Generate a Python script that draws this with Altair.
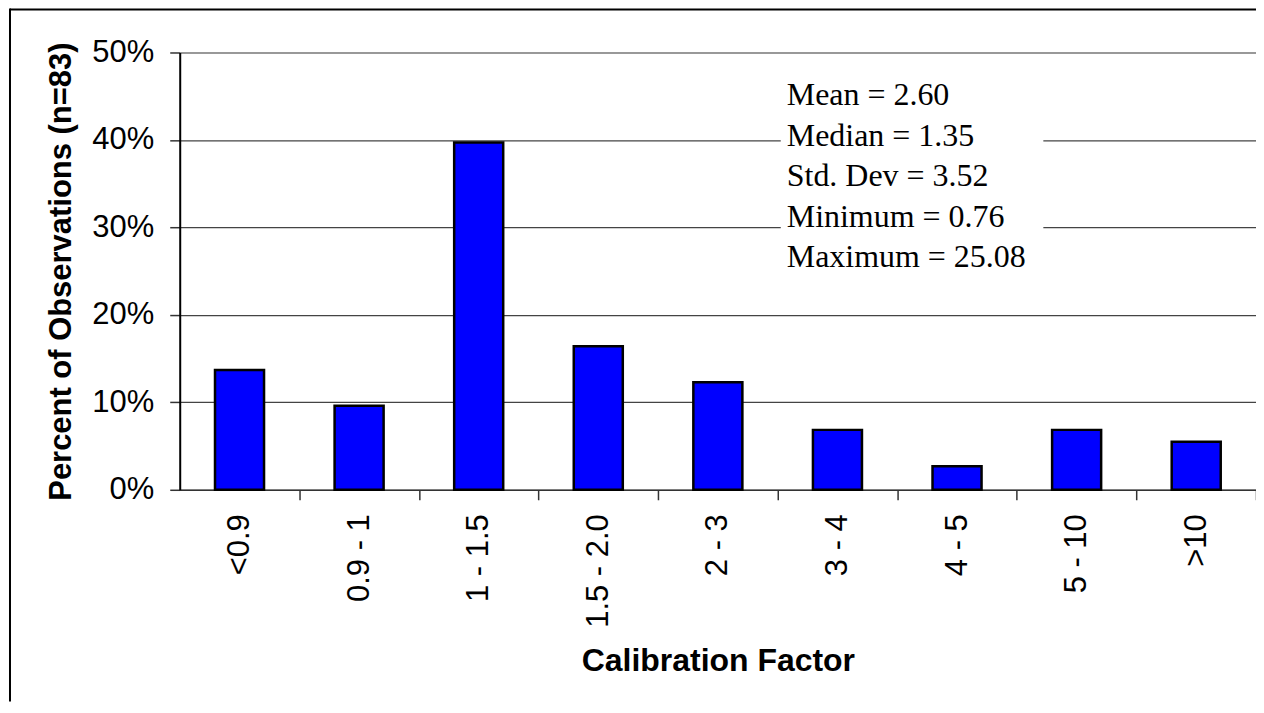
import altair as alt
import pandas as pd

categories = ["<0.9", "0.9 - 1", "1 - 1.5", "1.5 - 2.0", "2 - 3", "3 - 4", "4 - 5", "5 - 10", ">10"]
percents = [13.7, 9.6, 39.7, 16.4, 12.3, 6.85, 2.7, 6.85, 5.5]
stats_lines = ["Mean = 2.60", "Median = 1.35", "Std. Dev = 3.52", "Minimum = 0.76", "Maximum = 25.08"]

W, H = 1078, 438
BOTTOM = 212
step = W / len(categories)

df = pd.DataFrame({"cat": categories, "pct": percents})
one = pd.DataFrame({"a": [0]})

x = alt.X(
    "cat:N",
    sort=categories,
    scale=alt.Scale(paddingInner=0.59, paddingOuter=0.295),
    axis=alt.Axis(
        title="Calibration Factor",
        titleFont="Liberation Sans",
        titleFontSize=32,
        titleFontWeight="bold",
        titleColor="black",
        titlePadding=18,
        labelAngle=-90,
        labelFont="Liberation Sans",
        labelFontSize=31,
        labelColor="black",
        labelPadding=14,
        tickSize=10,
        tickColor="#333333",
        tickWidth=1.5,
        tickOffset=step / 2,
        labelOffset=-step / 2,
        domainColor="#333333",
        domainWidth=1.5,
        grid=False,
    ),
)

y = alt.Y(
    "pct:Q",
    scale=alt.Scale(domain=[0, 50]),
    axis=alt.Axis(
        title="Percent of Observations (n=83)",
        titleFont="Liberation Sans",
        titleFontSize=31,
        titleFontWeight="bold",
        titleColor="black",
        titlePadding=14,
        values=[0, 10, 20, 30, 40, 50],
        labelExpr="datum.value + '%'",
        labelFont="Liberation Sans",
        labelFontSize=31,
        labelColor="black",
        labelPadding=16,
        tickSize=10,
        tickColor="#333333",
        tickWidth=1.5,
        domainColor="black",
        domainWidth=2,
        grid=True,
        gridColor="#444444",
        gridWidth=1.2,
    ),
)

bars = alt.Chart(df).mark_bar(color="#0000FF", stroke="black", strokeWidth=2.5).encode(x=x, y=y)

box = alt.Chart(one).mark_rect(fill="white").encode(
    x=alt.value(602), x2=alt.value(865), y=alt.value(22), y2=alt.value(243)
)

stats = alt.Chart(one).mark_text(
    text=stats_lines,
    font="Liberation Serif",
    fontSize=32,
    lineHeight=40.5,
    align="left",
    baseline="top",
    color="black",
).encode(x=alt.value(608), y=alt.value(28))

border_left = alt.Chart(one).mark_rule(color="black", strokeWidth=2).encode(
    x=alt.value(-170), y=alt.value(-44), y2=alt.value(H + BOTTOM)
)
border_top = alt.Chart(one).mark_rule(color="black", strokeWidth=2).encode(
    y=alt.value(-43), x=alt.value(-170), x2=alt.value(W)
)

chart = alt.layer(bars, box, stats, border_left, border_top).properties(
    width=W,
    height=H,
    autosize=alt.AutoSizeParams(type="none"),
    padding={"left": 172, "top": 44, "right": 0, "bottom": BOTTOM},
).configure_view(stroke="#888888", strokeWidth=2.5).configure(background="white")

chart.save("out.html", embed_options={"renderer": "svg", "actions": False})
